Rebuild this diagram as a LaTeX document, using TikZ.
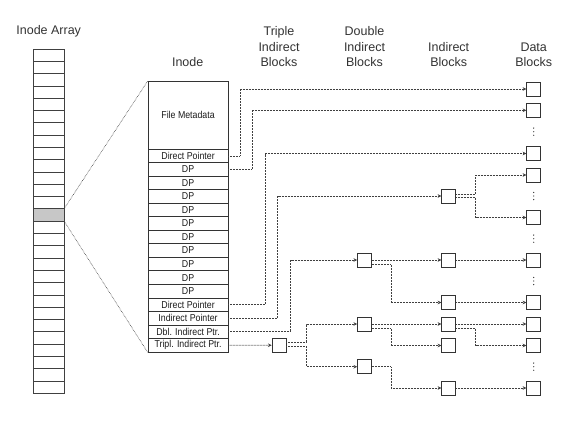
\documentclass[tikz,border=0pt]{standalone}
\usepackage{fontspec}
\setmainfont{Liberation Sans}
\newfontfamily\condfont[FakeStretch=0.88]{Liberation Sans}
\usetikzlibrary{arrows.meta,calc}
\begin{document}
\begin{tikzpicture}[x=1pt,y=-1pt,
  conn/.style={draw=black!75, line width=0.6pt, dash pattern=on 0.6pt off 0.9pt},
  arr/.style={conn, -{Stealth[length=3.6pt,width=3.6pt]}},
  blk/.style={draw=black!80, line width=0.8pt, minimum width=14pt, minimum height=14pt, inner sep=0pt, fill=white},
  acell/.style={draw=black!75, line width=0.6pt, minimum width=31pt, minimum height=12.29pt, inner sep=0pt},
  irow/.style={draw=black!80, line width=0.7pt, minimum width=80pt, minimum height=13.53pt, inner sep=0pt, anchor=north west, font=\condfont\fontsize{10}{10}\selectfont, text=black!90},
  hdr/.style={align=center, font=\fontsize{12.5}{15.5}\selectfont, text=black!80, inner sep=0pt},
]
\useasboundingbox (0,0) rectangle (570,423);

% headers
\node[hdr, anchor=base] (hA) at (48.7,34) {Inode Array};
\node[hdr, anchor=base] (hI) at (187.7,66.7) {Inode};
\node[hdr, anchor=south] (hT) at (279,67) {Triple\\Indirect\\Blocks};
\node[hdr, anchor=south] (hD) at (364.5,67) {Double\\Indirect\\Blocks};
\node[hdr, anchor=south] (hN) at (448.7,67) {Indirect\\Blocks};
\node[hdr, anchor=south] (hB) at (533.7,67) {Data\\Blocks};

% inode array
\foreach \i in {0,...,27} {
  \ifnum\i=13 \def\cf{black!22}\else\def\cf{white}\fi
  \node[acell, fill=\cf] (a\i) at (48.5, 49+\i*12.29+6.145) {};
}

% inode
\node[draw=black!80, line width=0.7pt, minimum width=80pt, minimum height=67.7pt, inner sep=0pt, anchor=north west,
      font=\condfont\fontsize{10}{10}\selectfont, text=black!90] (meta) at (147.7,81) {File Metadata};
\foreach \t [count=\i from 0] in {Direct Pointer,DP,DP,DP,DP,DP,DP,DP,DP,DP,DP,Direct Pointer,Indirect Pointer,Dbl. Indirect Ptr.,Tripl. Indirect Ptr.} {
  \node[irow] (r\i) at (147.7, 148.7+\i*13.53) {\t};
}

% zoom lines
\draw[conn] (a13.north east) -- (meta.north west);
\draw[conn] (a13.south east) -- (r14.south west);

% data blocks
\foreach \y [count=\i from 0] in {89,110.3,153.5,175,217.5,260,302.5,324,345.5,388} {
  \node[blk] (d\i) at (533.7,\y) {};
}
% vertical ellipses between data blocks
\foreach \y in {131.7,196,238.7,281,366.7} {
  \fill[black!80] (533.7,\y-3.6) circle (0.65pt) (533.7,\y) circle (0.65pt) (533.7,\y+3.6) circle (0.65pt);
}
% indirect blocks
\foreach \y [count=\i from 0] in {196,260,302.5,324,345.5,388} {
  \node[blk] (i\i) at (448.7,\y) {};
}
% double indirect blocks
\foreach \y [count=\i from 0] in {260,324,366.7} {
  \node[blk] (b\i) at (364.5,\y) {};
}
% triple indirect block
\node[blk] (t0) at (279,345.2) {};

% bend coordinates
\coordinate (k1) at (240,0);
\coordinate (k2) at (252,0);
\coordinate (k3) at (265,0);
\coordinate (k4) at (277.5,0);
\coordinate (k5) at (290.5,0);
\coordinate (k6) at (306.7,0);
\coordinate (k7) at (391,0);
\coordinate (k8) at (475.5,0);

% direct pointers
\draw[arr] (r0.east) -- (r0.east -| k1) |- (d0.west);
\draw[arr] (r1.east) -- (r1.east -| k2) |- (d1.west);
\draw[arr] (r11.east) -- (r11.east -| k3) |- (d2.west);
% indirect pointer
\draw[arr] (r12.east) -- (r12.east -| k4) |- (i0.west);
\coordinate (i0u) at ([yshift=2pt]i0.east);
\coordinate (i0d) at ([yshift=-1.5pt]i0.east);
\draw[arr] (i0u) -- (i0u -| k8) |- (d3.west);
\draw[arr] (i0d) -- (i0d -| k8) |- (d4.west);
% double indirect pointer
\draw[arr] (r13.east) -- (r13.east -| k5) |- (b0.west);
\draw[arr] (b0.east) -- (i1.west);
\coordinate (b0d) at ([yshift=-4.5pt]b0.east);
\draw[arr] (b0d) -- (b0d -| k7) |- (i2.west);
\draw[arr] (i1.east) -- (d5.west);
\draw[arr] (i2.east) -- (d6.west);
% triple indirect pointer
\draw[arr] (r14.east) -- (t0.west);
\coordinate (t0u) at ([yshift=2.5pt]t0.east);
\coordinate (t0d) at ([yshift=-1.5pt]t0.east);
\draw[arr] (t0u) -- (t0u -| k6) |- (b1.west);
\draw[arr] (t0d) -- (t0d -| k6) |- (b2.west);
\draw[arr] (b1.east) -- (i3.west);
\coordinate (b1d) at ([yshift=-4.5pt]b1.east);
\draw[arr] (b1d) -- (b1d -| k7) |- (i4.west);
\draw[arr] (b2.east) -- (b2.east -| k7) |- (i5.west);
\draw[arr] (i3.east) -- (d7.west);
\coordinate (i3d) at ([yshift=-4.5pt]i3.east);
\draw[arr] (i3d) -- (i3d -| k8) |- (d8.west);
\draw[arr] (i5.east) -- (d9.west);
\end{tikzpicture}
\end{document}
